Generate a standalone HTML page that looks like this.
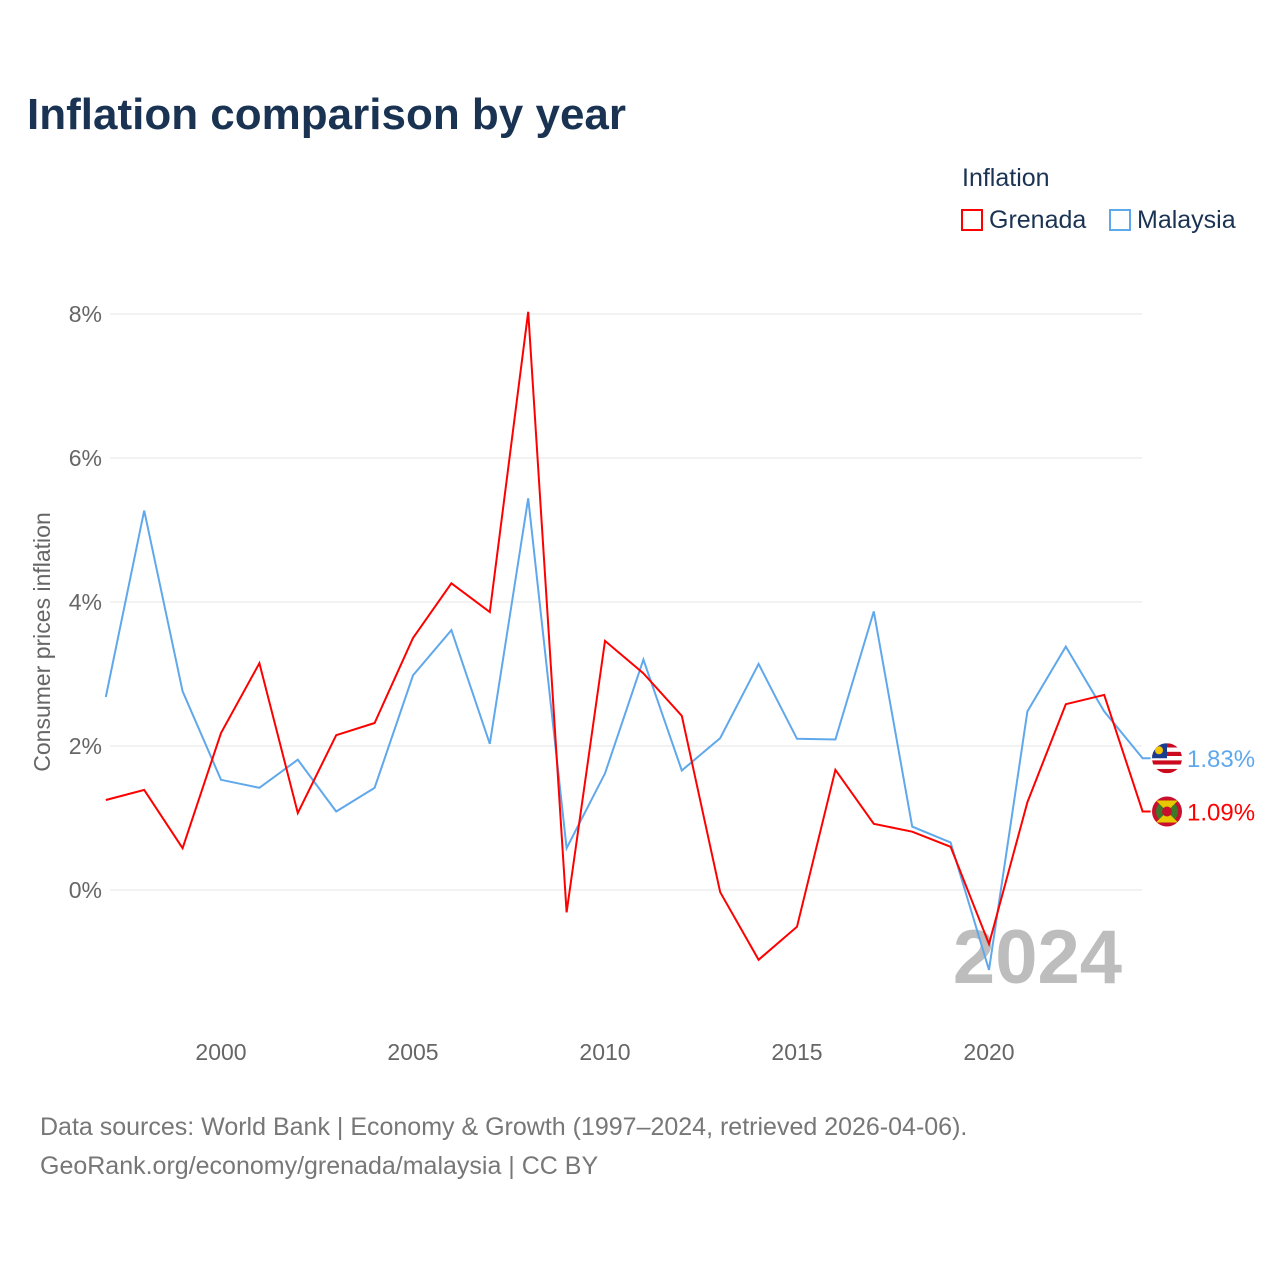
<!DOCTYPE html>
<html><head><meta charset="utf-8">
<style>
html,body{margin:0;padding:0;background:#fff;}
body{width:1280px;height:1280px;position:relative;font-family:"Liberation Sans",sans-serif;overflow:hidden;}
.t{position:absolute;white-space:nowrap;}
</style></head>
<body>
<div class="t" style="left:27px;top:90px;font-size:44px;font-weight:bold;color:#1b3353;">Inflation comparison by year</div>
<div class="t" style="left:962px;top:164px;font-size:25px;color:#1b3353;">Inflation</div>
<div class="t" style="left:961px;top:206px;font-size:25px;color:#1b3353;"><span style="display:inline-block;width:22px;height:22px;border:2px solid #ff0000;box-sizing:border-box;vertical-align:-3px;margin-right:6px;"></span>Grenada</div>
<div class="t" style="left:1109px;top:206px;font-size:25px;color:#1b3353;"><span style="display:inline-block;width:22px;height:22px;border:2px solid #5fa8ec;box-sizing:border-box;vertical-align:-3px;margin-right:6px;"></span>Malaysia</div>
<svg id="chart" width="1280" height="1280" style="position:absolute;left:0;top:0;" xmlns="http://www.w3.org/2000/svg"></svg>
<div class="t" style="left:40px;top:1108px;font-size:25px;color:#777;line-height:39px;">Data sources: World Bank | Economy &amp; Growth (1997–2024, retrieved 2026-04-06).<br>GeoRank.org/economy/grenada/malaysia | CC BY</div>
<script>
const years=[1997,1998,1999,2000,2001,2002,2003,2004,2005,2006,2007,2008,2009,2010,2011,2012,2013,2014,2015,2016,2017,2018,2019,2020,2021,2022,2023,2024];
const grenada=[1.25,1.39,0.58,2.18,3.15,1.07,2.15,2.32,3.5,4.26,3.86,8.03,-0.31,3.46,3.01,2.42,-0.03,-0.97,-0.51,1.67,0.92,0.81,0.6,-0.75,1.22,2.58,2.71,1.09];
const malaysia=[2.68,5.27,2.76,1.53,1.42,1.81,1.09,1.42,2.98,3.61,2.03,5.44,0.58,1.62,3.2,1.66,2.11,3.14,2.1,2.09,3.87,0.88,0.66,-1.11,2.48,3.38,2.48,1.83];
const yTicks=[0,2,4,6,8];
const xTicks=[2000,2005,2010,2015,2020];
const NS="http://www.w3.org/2000/svg";
const svg=document.getElementById('chart');
function x(yr){return 221+(yr-2000)*38.4;}
function y(v){return 890-v*72;}
function mk(tag,attrs){const e=document.createElementNS(NS,tag);for(const k in attrs)e.setAttribute(k,attrs[k]);svg.appendChild(e);return e;}
yTicks.forEach(v=>{
  const g=mk('line',{x1:110,x2:1142,y1:y(v),y2:y(v),stroke:'#e6e6e6','stroke-width':1});
  
  
  const t=mk('text',{x:102,y:y(v)+8,'text-anchor':'end','font-size':23,fill:'#666','font-family':'Liberation Sans, sans-serif'});
  t.textContent=v+'%';
  
  
});
xTicks.forEach(v=>{
  const t=mk('text',{x:x(v),y:1060,'text-anchor':'middle','font-size':23,fill:'#666','font-family':'Liberation Sans, sans-serif'});
  t.textContent=v;
  
  
});
const yt=mk('text',{x:0,y:0,transform:'translate(50,642) rotate(-90)','text-anchor':'middle','font-size':23,fill:'#666','font-family':'Liberation Sans, sans-serif'});
yt.textContent='Consumer prices inflation';


const yr=mk('text',{x:1122,y:983,'text-anchor':'end','font-size':76,'font-weight':'bold',fill:'#bdbdbd','font-family':'Liberation Sans, sans-serif'});
yr.textContent='2024';


function series(vals,color,name,labelColor){
  let d=vals.map((v,i)=>(i?'L':'M')+x(years[i]).toFixed(1)+','+y(v).toFixed(1)).join(' ');
  const last=vals[vals.length-1];
  d+=' L'+(x(years[years.length-1])+8)+','+y(last).toFixed(1);
  const p=mk('path',{d:d,fill:'none',stroke:color,'stroke-width':2,'stroke-linejoin':'miter'});
  
  
  const t=mk('text',{x:1187,y:y(last)+9,'font-size':24,fill:labelColor,'font-family':'Liberation Sans, sans-serif'});
  t.textContent=last.toFixed(2)+'%';
  
  
  return y(last);
}
const ym=series(malaysia,'#5fa8ec','malaysia','#5fa8ec');
const yg=series(grenada,'#ff0000','grenada','#ff0000');
// flags
const fm=mk('g',{});


const cy=ym, cx=1167;
for(let i=0;i<7;i++){const r=document.createElementNS(NS,'rect');r.setAttribute('x',cx-15);r.setAttribute('y',cy-15+i*30/7);r.setAttribute('width',30);r.setAttribute('height',30/7);r.setAttribute('fill',i%2?'#fff':'#cc0a1e');fm.appendChild(r);}
const cl=document.createElementNS(NS,'clipPath');cl.setAttribute('id','cm');const cc=document.createElementNS(NS,'circle');cc.setAttribute('cx',cx);cc.setAttribute('cy',cy);cc.setAttribute('r',15);cl.appendChild(cc);svg.appendChild(cl);
fm.setAttribute('clip-path','url(#cm)');
const cn=document.createElementNS(NS,'rect');cn.setAttribute('x',cx-15);cn.setAttribute('y',cy-15);cn.setAttribute('width',15);cn.setAttribute('height',15);cn.setAttribute('fill','#1a3d8f');fm.appendChild(cn);
const mo=document.createElementNS(NS,'circle');mo.setAttribute('cx',cx-8);mo.setAttribute('cy',cy-8);mo.setAttribute('r',4);mo.setAttribute('fill','#f5c400');fm.appendChild(mo);
const fg=mk('g',{});


const gy=yg;
const c1=document.createElementNS(NS,'circle');c1.setAttribute('cx',cx);c1.setAttribute('cy',gy);c1.setAttribute('r',15);c1.setAttribute('fill','#c8102e');fg.appendChild(c1);
const c2=document.createElementNS(NS,'circle');c2.setAttribute('cx',cx);c2.setAttribute('cy',gy);c2.setAttribute('r',11);c2.setAttribute('fill','#3c7a2a');fg.appendChild(c2);
const tri=document.createElementNS(NS,'path');tri.setAttribute('d',`M${cx-11},${gy-11} L${cx+11},${gy-11} L${cx},${gy} Z M${cx-11},${gy+11} L${cx+11},${gy+11} L${cx},${gy} Z`);tri.setAttribute('fill','#e8c800');fg.appendChild(tri);
const cr=document.createElementNS(NS,'circle');cr.setAttribute('cx',cx);cr.setAttribute('cy',gy);cr.setAttribute('r',5);cr.setAttribute('fill','#c8102e');fg.appendChild(cr);
</script>
</body></html>
